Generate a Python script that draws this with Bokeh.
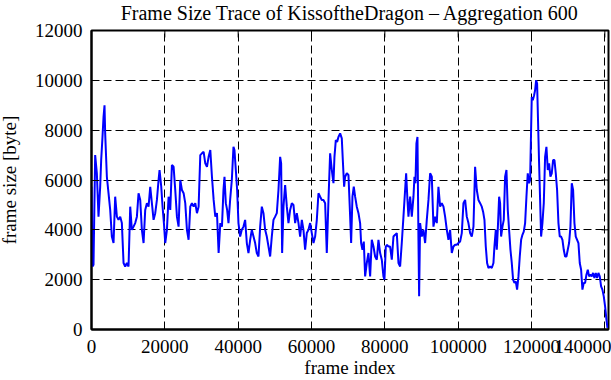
from bokeh.plotting import figure
from bokeh.models import Range1d, FixedTicker, BasicTickFormatter
from bokeh.embed import file_html
from bokeh.resources import INLINE

# ---- data ----
frame_index = [
    0, 270, 550, 1000, 1460, 1910, 2370, 2640, 3000, 3280, 3550, 3730, 4190, 4640, 5100,
    5550, 6010, 6460, 6920, 7370, 7830, 8280, 8740, 9190, 9650, 10100, 10560, 11010, 11470,
    11920, 12380, 12830, 13290, 13740, 14200, 14650, 15110, 15560, 16020, 16470, 16930, 17380,
    17840, 18290, 18560, 19020, 19380, 19750, 20110, 20570, 21020, 21480, 21930, 22390, 22840,
    23300, 23750, 24210, 24660, 25120, 25570, 26030, 26480, 26940, 27390, 27850, 28300, 28760,
    29210, 29670, 30120, 30580, 31030, 31490, 31940, 32400, 32850, 33310, 33760, 34220, 34670,
    35130, 35580, 35990, 36270, 36630, 36990, 37360, 37810, 38270, 38720, 38990, 39360, 39720,
    40080, 40540, 40990, 41450, 41900, 42360, 42810, 43270, 43720, 44180, 44630, 45080, 45540,
    46000, 46450, 46900, 47360, 47810, 48270, 48720, 49170, 49630, 50080, 50540, 50990, 51450,
    51720, 51990, 52360, 52810, 53270, 53720, 54170, 54630, 55080, 55540, 55990, 56450, 56900,
    57360, 57810, 58260, 58720, 59170, 59630, 60080, 60540, 60990, 61450, 61900, 62360, 62810,
    63260, 63720, 64170, 64630, 65080, 65540, 65990, 66260, 66630, 66990, 67350, 67810, 68260,
    68540, 68900, 69170, 69630, 70080, 70540, 70810, 71170, 71530, 71900, 72350, 72810, 73260,
    73530, 73900, 74260, 74630, 75080, 75530, 75990, 76440, 76900, 77350, 77810, 78260, 78720,
    79170, 79620, 79900, 80260, 80620, 80990, 81440, 81900, 82350, 82810, 83260, 83720, 84170,
    84620, 85080, 85530, 85810, 86170, 86440, 86900, 87350, 87810, 88080, 88350, 88620, 88900,
    89170, 89350, 89620, 90080, 90530, 90990, 91440, 91900, 92350, 92810, 93260, 93710, 94170,
    94620, 95080, 95530, 95990, 96440, 96900, 97350, 97800, 98260, 98710, 99170, 99620, 100080,
    100530, 100990, 101440, 101900, 102350, 102800, 103260, 103710, 104170, 104620, 105080,
    105530, 105990, 106440, 106800, 107170, 107530, 107890, 108260, 108710, 109170, 109620,
    109890, 110260, 110530, 110800, 111170, 111440, 111710, 112080, 112440, 112800, 113170,
    113530, 113890, 114260, 114620, 114980, 115350, 115710, 116070, 116440, 116800, 117170,
    117530, 117890, 118260, 118620, 118980, 119350, 119620, 119890, 120070, 120350, 120710,
    120980, 121260, 121530, 121800, 122070, 122350, 122620, 122980, 123350, 123710, 124070,
    124440, 124800, 125160, 125530, 125890, 126260, 126620, 126980, 127350, 127710, 128070,
    128440, 128800, 129160, 129530, 129890, 130250, 130620, 130980, 131350, 131710, 132070,
    132440, 132800, 133160, 133530, 133890, 134250, 134620, 134980, 135350, 135710, 136070,
    136440, 136800, 137160, 137530, 137890, 138250, 138620, 138980, 139340, 139710, 140070,
    140440, 140710,
]
frame_size = [
    5730, 2530, 2600, 7000, 6270, 4530, 5730, 6800, 7730, 8530, 9000, 7870, 6130, 5470, 4800,
    3730, 3470, 5330, 4530, 4400, 4530, 4270, 2670, 2530, 2670, 2530, 4930, 4000, 4130,
    4270, 4530, 5470, 5200, 4000, 3470, 4800, 5070, 4930, 5730, 5070, 4400, 4670,
    5200, 6000, 6400, 5730, 4930, 4270, 3470, 4000, 5330, 4800, 6600, 6530, 5600,
    4530, 4130, 6000, 5600, 5470, 5070, 4000, 3600, 4930, 5070, 4930, 5070, 4670,
    4930, 7000, 7070, 7130, 6670, 6530, 6930, 7200, 6130, 5200, 4530, 4670, 3070,
    4270, 4130, 5600, 6130, 5070, 4800, 4270, 5200, 6000, 7330, 7200, 6400, 5600,
    4270, 3730, 4000, 4130, 4400, 3470, 3070, 3600, 4000, 3730, 3470, 3070, 2930,
    4130, 4930, 4670, 4000, 3730, 3330, 2930, 3730, 4400, 4530, 4670, 5600, 6930,
    6670, 3070, 4930, 5800, 4930, 4270, 4800, 5070, 5000, 4270, 4670, 4270, 3730,
    4400, 4000, 3200, 3870, 4000, 4270, 3870, 3470, 3730, 4400, 5470, 5330, 5200,
    5200, 5070, 3070, 5200, 7070, 6400, 5870, 6930, 7600, 7530, 7730, 7870, 7670,
    6800, 5730, 6130, 6270, 6200, 4530, 3470, 5330, 5730, 5330, 4930, 4670, 4270,
    3470, 3200, 3530, 2130, 2670, 3070, 2130, 3600, 3330, 2930, 2800, 3600, 3070,
    2800, 2130, 2000, 3330, 3400, 3330, 3330, 2800, 3730, 3800, 3870, 2670, 2530,
    3470, 4530, 5600, 6270, 5200, 4530, 5330, 4530, 5330, 6130, 5870, 7470, 7730,
    3600, 1330, 4270, 3730, 4000, 3470, 4400, 5200, 6270, 6130, 4130, 4530, 4270,
    5730, 4930, 5070, 4930, 4530, 4000, 3600, 4000, 3070, 3330, 3400, 3400, 3470,
    3530, 3870, 5070, 5200, 4530, 4270, 3870, 3730, 4130, 6530, 5600,
    5200, 5070, 4930, 4730, 4400, 3330, 2670, 2470, 2530, 2470, 2670,
    3330, 4000, 3200, 4000, 5330, 5070, 3730, 4130, 4400, 6130, 6400,
    4800, 4000, 3200, 2670, 2000, 1870, 1930, 1600, 2130, 2930, 3600,
    3800, 3930, 4270, 5330, 6270, 5870, 6000, 8000, 9330, 9200, 9400,
    9600, 10000, 9870, 8270, 6670, 5200, 3730, 4270, 5070, 6930, 7330,
    6400, 6670, 6130, 6270, 6800, 6800, 6270, 5600, 4270, 3730, 3730,
    3600, 3200, 2930, 2930, 3200, 3470, 4130, 5870, 5600, 4270, 3730,
    3600, 3470, 2670, 2400, 1600, 1870, 1870, 2200, 2400, 2130, 2200,
    2130, 2270, 2070, 2270, 2070, 2270, 2130, 1730, 1600, 1330, 930,
    400, 70,
]
x_ticks = [0, 20000, 40000, 60000, 80000, 100000, 120000, 140000]
y_ticks = [0, 2000, 4000, 6000, 8000, 10000, 12000]
x_limits = (0, 141000)
y_limits = (0, 12000)

title_text = "Frame Size Trace of KissoftheDragon \u2013 Aggregation 600"
x_label = "frame index"
y_label = "frame size [byte]"

FONT = "Liberation Serif"
FS = "19px"
LIFT = 5                      # figure pulled up so the title can sit near the top edge
SHIFT = 6                     # figure pulled left so the y label sits near the left edge
W, H = 611 + SHIFT, 380 + LIFT
B_LEFT, B_RIGHT, B_TOP, B_BOTTOM = 91 + SHIFT, 3, 30 + LIFT, 50
TICK = 7

p = figure(
    width=W, height=H,
    output_backend="svg", toolbar_location=None,
    x_range=Range1d(*x_limits), y_range=Range1d(*y_limits),
    min_border_left=B_LEFT, min_border_right=B_RIGHT,
    min_border_top=B_TOP, min_border_bottom=B_BOTTOM,
    background_fill_color="white", border_fill_color="white",
    title=title_text,
)
p.margin = (-LIFT, 0, 0, -SHIFT)

p.title.text_font = FONT
p.title.text_font_size = "20px"
p.title.text_font_style = "normal"
p.title.text_color = "black"
p.title.align = "center"
p.title.vertical_align = "top"
p.title.standoff = 10

p.outline_line_color = "black"
p.outline_line_width = 2
p.outline_line_alpha = 1.0

# grid
p.xgrid.ticker = FixedTicker(ticks=x_ticks)
p.ygrid.ticker = FixedTicker(ticks=y_ticks)
p.grid.grid_line_color = "black"
p.grid.grid_line_width = 1
p.grid.grid_line_dash = "8 4"
p.grid.grid_line_alpha = 1.0

# mirrored inward ticks on top and right (lengths converted from pixels)
frame_w = W - B_LEFT - B_RIGHT
frame_h = H - B_TOP - B_BOTTOM
tick_dx = TICK * (x_limits[1] - x_limits[0]) / frame_w
tick_dy = TICK * (y_limits[1] - y_limits[0]) / frame_h
p.segment(x0=x_ticks, y0=[y_limits[1]] * len(x_ticks),
          x1=x_ticks, y1=[y_limits[1] - tick_dy] * len(x_ticks),
          line_color="black", line_width=1)
p.segment(x0=[x_limits[1]] * len(y_ticks), y0=y_ticks,
          x1=[x_limits[1] - tick_dx] * len(y_ticks), y1=y_ticks,
          line_color="black", line_width=1)

p.line(frame_index, frame_size, line_color="#0000ff", line_width=2)

fmt = BasicTickFormatter(use_scientific=False)
for ax in (p.xaxis[0], p.yaxis[0]):
    ax.major_label_text_font = FONT
    ax.major_label_text_font_size = FS
    ax.major_label_text_color = "black"
    ax.axis_label_text_font = FONT
    ax.axis_label_text_font_size = FS
    ax.axis_label_text_font_style = "normal"
    ax.axis_label_text_color = "black"
    ax.major_tick_in = TICK
    ax.major_tick_out = 0
    ax.major_tick_line_color = "black"
    ax.minor_tick_line_color = None
    ax.axis_line_color = "black"
    ax.axis_line_width = 2
    ax.formatter = fmt

p.xaxis[0].ticker = FixedTicker(ticks=x_ticks)
p.yaxis[0].ticker = FixedTicker(ticks=y_ticks)
p.xaxis[0].axis_label = x_label
p.yaxis[0].axis_label = y_label
p.xaxis[0].major_label_standoff = 10
p.xaxis[0].axis_label_standoff = 1
p.yaxis[0].major_label_standoff = 9
p.yaxis[0].axis_label_standoff = 12

open("out.html", "w").write(file_html(p, INLINE))
